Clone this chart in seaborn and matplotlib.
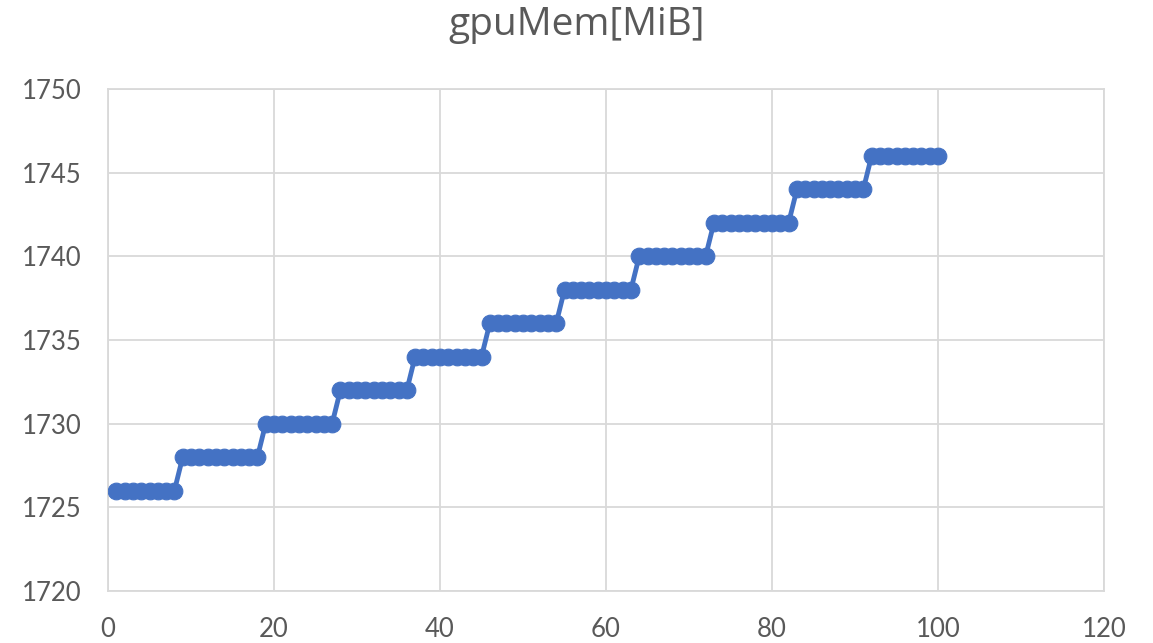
import numpy as np
import pandas as pd
import matplotlib
matplotlib.use("Agg")
import matplotlib.pyplot as plt
import seaborn as sns

# GPU memory levels (MiB) and how many consecutive samples sit at each level
levels = [1726, 1728, 1730, 1732, 1734, 1736, 1738, 1740, 1742, 1744, 1746]
run_lengths = [8, 10, 9, 9, 9, 9, 9, 9, 10, 9, 9]

x_ticks = [0, 20, 40, 60, 80, 100, 120]
y_ticks = [1720, 1725, 1730, 1735, 1740, 1745, 1750]

mem = np.repeat(levels, run_lengths)
df = pd.DataFrame({"sample": np.arange(1, len(mem) + 1), "gpuMem": mem})

sns.set_theme(style="white")
plt.rcParams["font.family"] = ["Lato", "DejaVu Sans"]

fig = plt.figure(figsize=(11.53, 6.43), dpi=100)
ax = fig.add_axes([108 / 1153, 1 - 591 / 643, (1104 - 108) / 1153, (591 - 89) / 643])

color = "#4472C4"
sns.lineplot(data=df, x="sample", y="gpuMem", ax=ax, color=color, linewidth=3.5,
             marker="o", markersize=12, markeredgecolor=color, markeredgewidth=0.8,
             zorder=3)

ax.set_xlim(x_ticks[0], x_ticks[-1])
ax.set_ylim(y_ticks[0], y_ticks[-1])
ax.set_xticks(x_ticks)
ax.set_yticks(y_ticks)
ax.grid(True, color="#d9d9d9", linewidth=1.3)
for s in ax.spines.values():
    s.set_color("#d9d9d9")
    s.set_linewidth(1.3)
ax.tick_params(axis="both", length=0, labelsize=18.5, labelcolor="#595959", pad=19)
ax.set_xlabel("")
ax.set_ylabel("")
fig.text(0.5, 1 - 35 / 643, "gpuMem[MiB]", ha="center", va="baseline",
         fontsize=28, color="#595959", family=["Open Sans", "DejaVu Sans"])

fig.savefig("out.png", dpi=100)
